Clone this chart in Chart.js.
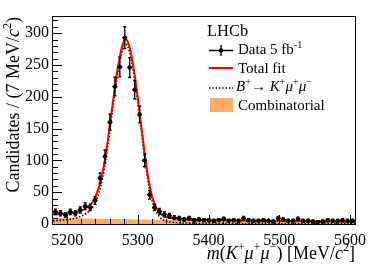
<!DOCTYPE html>
<html><head><meta charset="utf-8">
<script src="https://cdn.jsdelivr.net/npm/chart.js@4/dist/chart.umd.min.js"></script>
<style>html,body{margin:0;padding:0;background:#fff;}#wrap{width:374px;height:268px;position:relative;}canvas{display:block;}</style>
</head><body><div id="wrap"><canvas id="c" width="374" height="268" style="width:374px;height:268px"></canvas></div>
<script>
// ---- data ----
const binCenters = [5183.5,5190.5,5197.5,5204.5,5211.5,5218.5,5225.5,5232.5,5239.5,5246.5,
  5253.5,5260.5,5267.5,5274.5,5281.5,5288.5,5295.5,5302.5,5309.5,5316.5,
  5323.5,5330.5,5337.5,5344.5,5351.5,5358.5,5365.5,5372.5,5379.5,5386.5,
  5393.5,5400.5,5407.5,5414.5,5421.5,5428.5,5435.5,5442.5,5449.5,5456.5,
  5463.5,5470.5,5477.5,5484.5,5491.5,5498.5,5505.5,5512.5,5519.5,5526.5,
  5533.5,5540.5,5547.5,5554.5,5561.5,5568.5,5575.5,5582.5,5589.5,5596.5,5603.5];
const counts = [19,17,14,19,17,22,28,26,37,72,
  106,160,216,247,293,246,211,172,100,46,
  26,20,15,13,10,9,7,9,6,7,
  6,6,5,6,8,5,6,5,9,6,
  5,5,6,5,4,9,7,5,5,8,
  5,5,4,3,4,6,5,5,6,5,5];
const countErrors = [4.4,4.1,3.7,4.4,4.1,4.7,5.3,5.1,6.1,8.5,
  10.3,12.6,14.7,15.7,17.1,15.7,14.5,13.1,10,6.8,
  5.1,4.5,3.9,3.6,3.2,3,2.6,3,2.4,2.6,
  2.4,2.4,2.2,2.4,2.8,2.2,2.4,2.2,3,2.4,
  2.2,2.2,2.4,2.2,2,3,2.6,2.2,2.2,2.8,
  2.2,2.2,2,1.7,2,2.4,2.2,2.2,2.4,2.2,2.2];
const fitMass = [5180,5190,5200,5210,5220,5230,5235,5240,5245,5250,5255,5260,5265,5270,5275,5280,5283,5286,5290,5295,5300,5305,5310,5315,5320,5325,5330,5335,5340,5350,5360,5380,5400,5450,5500,5550,5607];
const totalFit = [15,15.5,16.5,18,21,27.5,33,43,58,80,112,152,194,234,266,287,290,286,270,238,197,152,108,70,44,28,18.5,13.5,11,8.8,7.8,7.0,6.4,5.5,4.7,4.1,3.5];
const signalFit = [5,5.7,6.8,8.7,12.3,19,24.6,34.7,49.8,71.9,104,144,186,226,258,279.5,282.5,278.6,262.7,230.8,190,145,101,63,37.3,21.4,12,7,4.6,2.6,1.8,1.3,1.0,0.7,0.5,0.4,0.3];
const combinatorialFit = [9.5,9.3,9.1,8.9,8.7,8.5,8.4,8.3,8.2,8.1,8,7.9,7.8,7.7,7.6,7.5,7.45,7.4,7.3,7.2,7.1,7,6.9,6.8,6.7,6.6,6.5,6.45,6.4,6.2,6.0,5.7,5.4,4.8,4.2,3.7,3.2];
const xMajorTicks = [5200,5300,5400,5500,5600];
const yMajorTicks = [0,50,100,150,200,250,300];
const X_RANGE = [5180, 5607];
const Y_RANGE = [0, 327];

// ---- styles ----
const SERIF = '"Liberation Serif","Times New Roman",serif';
const ORANGE = 'rgb(255,172,96)';
const RED = '#ff0000';

function pts(xs, ys){ return xs.map((x,i)=>({x:x, y:ys[i]})); }

function drawRich(ctx, segs, x, y, size, align){
  const parts = segs.map(s=>{
    const fs = s.sup ? size*0.68 : size;
    const font = (s.it?'italic ':'') + fs + 'px ' + SERIF;
    ctx.font = font;
    return {t:s.t, font:font, w:ctx.measureText(s.t).width, dy: s.sup ? -size*0.42 : 0};
  });
  const total = parts.reduce((a,p)=>a+p.w,0);
  let cx = align==='right' ? x-total : (align==='center' ? x-total/2 : x);
  ctx.textAlign='left'; ctx.textBaseline='alphabetic';
  parts.forEach(p=>{ ctx.font=p.font; ctx.fillText(p.t, cx, y+p.dy); cx+=p.w; });
}

const errPlugin = {
  id:'errbars',
  afterDatasetsDraw(chart){
    const ctx = chart.ctx, xs = chart.scales.x, ys = chart.scales.y;
    ctx.save();
    ctx.strokeStyle='#000'; ctx.lineWidth=1.3;
    binCenters.forEach((m,i)=>{
      const px = xs.getPixelForValue(m), py = ys.getPixelForValue(counts[i]);
      const t = ys.getPixelForValue(counts[i]+countErrors[i]);
      const b = ys.getPixelForValue(Math.max(0,counts[i]-countErrors[i]));
      const l = xs.getPixelForValue(m-3.5), r = xs.getPixelForValue(m+3.5);
      ctx.beginPath();
      ctx.moveTo(px,t); ctx.lineTo(px,b);
      ctx.moveTo(l,py); ctx.lineTo(r,py);
      ctx.moveTo(px-1.5,t); ctx.lineTo(px+1.5,t);
      ctx.moveTo(px-1.5,b); ctx.lineTo(px+1.5,b);
      ctx.stroke();
    });
    ctx.restore();
  }
};

const framePlugin = {
  id:'frame',
  afterDraw(chart){
    const ctx = chart.ctx, a = chart.chartArea, xs = chart.scales.x, ys = chart.scales.y;
    ctx.save();
    ctx.strokeStyle='#000'; ctx.lineWidth=1;
    ctx.strokeRect(a.left-0.5, a.top+0.5, a.right-a.left+1, a.bottom-a.top);
    ctx.beginPath();
    for(let v=X_RANGE[0]; v<=X_RANGE[1]; v+=20){
      if(v<=X_RANGE[0]) continue;
      const px = Math.round(xs.getPixelForValue(v))+0.5;
      const len = xMajorTicks.includes(v) ? 9 : 5;
      ctx.moveTo(px, a.bottom); ctx.lineTo(px, a.bottom-len);
    }
    for(let v=10; v<Y_RANGE[1]; v+=10){
      const py = Math.round(ys.getPixelForValue(v))+0.5;
      const len = yMajorTicks.includes(v) ? 9 : 5;
      ctx.moveTo(a.left, py); ctx.lineTo(a.left+len, py);
    }
    ctx.stroke();
    ctx.fillStyle='#000';
    drawRich(ctx, [{t:'m',it:1},{t:'('},{t:'K',it:1},{t:'+',sup:1},{t:'\u03bc',it:1},{t:'+',sup:1},{t:'\u03bc',it:1},{t:'\u2212',sup:1},{t:') [MeV/'},{t:'c',it:1},{t:'2',sup:1},{t:']'}], a.right, 259, 18, 'right');
    ctx.save();
    ctx.translate(19, a.top+1);
    ctx.rotate(-Math.PI/2);
    drawRich(ctx, [{t:'Candidates / (7 MeV/'},{t:'c',it:1},{t:'2',sup:1},{t:')'}], 0, 0, 18, 'right');
    ctx.restore();
    drawRich(ctx, [{t:'LHCb'}], 207, 36, 16.5, 'left');
    ctx.lineWidth=1.3;
    ctx.beginPath(); ctx.moveTo(209,50.5); ctx.lineTo(233,50.5); ctx.moveTo(221,45); ctx.lineTo(221,56); ctx.stroke();
    ctx.beginPath(); ctx.arc(221,50.5,2.2,0,Math.PI*2); ctx.fill();
    drawRich(ctx, [{t:'Data 5 fb'},{t:'-1',sup:1}], 238, 54, 15, 'left');
    ctx.strokeStyle=RED; ctx.lineWidth=2;
    ctx.beginPath(); ctx.moveTo(209,68); ctx.lineTo(233,68); ctx.stroke();
    drawRich(ctx, [{t:'Total fit'}], 238, 73, 15, 'left');
    ctx.strokeStyle='#000'; ctx.lineWidth=1.6; ctx.setLineDash([1.5,1.8]);
    ctx.beginPath(); ctx.moveTo(209,88); ctx.lineTo(233,88); ctx.stroke();
    ctx.setLineDash([]);
    drawRich(ctx, [{t:'B',it:1},{t:'+',sup:1},{t:'\u2192 '},{t:'K',it:1},{t:'+',sup:1},{t:'\u03bc',it:1},{t:'+',sup:1},{t:'\u03bc',it:1},{t:'\u2212',sup:1}], 236, 91, 15, 'left');
    ctx.fillStyle=ORANGE; ctx.fillRect(210,98,23,14);
    ctx.fillStyle='#000';
    drawRich(ctx, [{t:'Combinatorial'}], 238, 110, 15, 'left');
    ctx.restore();
  }
};

new Chart(document.getElementById('c'), {
  type:'scatter',
  data:{ datasets:[
    {label:'Combinatorial', data:pts(fitMass, combinatorialFit), showLine:true, fill:'origin', backgroundColor:ORANGE, borderWidth:0, borderColor:'rgba(0,0,0,0)', pointRadius:0, tension:0.3, order:3},
    {label:'Signal', data:pts(fitMass, signalFit), showLine:true, fill:false, borderColor:'#000', borderWidth:1.6, borderDash:[1.5,1.8], pointRadius:0, cubicInterpolationMode:'monotone', order:2},
    {label:'Total fit', data:pts(fitMass, totalFit), showLine:true, fill:false, borderColor:RED, borderWidth:2, pointRadius:0, cubicInterpolationMode:'monotone', order:1},
    {label:'Data', data:pts(binCenters, counts), showLine:false, pointRadius:2.2, pointBackgroundColor:'#000', pointBorderWidth:0, order:0}
  ]},
  options:{
    responsive:false, animation:false, devicePixelRatio:1,
    layout:{padding:{top:16,right:19,left:0,bottom:0}},
    plugins:{legend:{display:false}, tooltip:{enabled:false}},
    scales:{
      x:{type:'linear', min:X_RANGE[0], max:X_RANGE[1],
        afterBuildTicks(s){ s.ticks = xMajorTicks.map(v=>({value:v})); },
        afterFit(s){ s.height = 44; },
        grid:{display:false, drawTicks:false}, border:{display:false},
        ticks:{font:{family:SERIF,size:16}, color:'#000', padding:7, maxRotation:0, autoSkip:false, callback:(v)=>String(v)}},
      y:{min:Y_RANGE[0], max:Y_RANGE[1],
        afterBuildTicks(s){ s.ticks = yMajorTicks.map(v=>({value:v})); },
        afterFit(s){ s.width = 53; },
        grid:{display:false, drawTicks:false}, border:{display:false},
        ticks:{font:{family:SERIF,size:16}, color:'#000', padding:4, autoSkip:false, callback:(v)=>String(v)}}
    }
  },
  plugins:[errPlugin, framePlugin]
});
</script></body></html>
